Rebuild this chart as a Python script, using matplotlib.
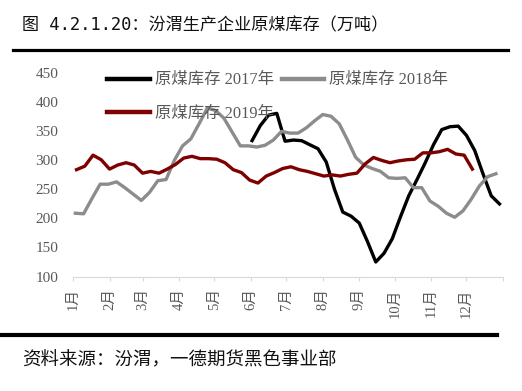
import numpy as np
import matplotlib
matplotlib.use("Agg")
import matplotlib.pyplot as plt
from matplotlib.lines import Line2D

# ---- data (weekly readings, day-of-year for first week) ----
months = ['1月', '2月', '3月', '4月', '5月', '6月', '7月', '8月', '9月', '10月', '11月', '12月']
month_start_days = [0, 31, 59, 90, 120, 151, 181, 212, 243, 273, 304, 334, 365]

start_2017 = 152
stock_2017 = [334, 360, 378, 381, 333, 335, 334, 327, 320, 297, 250, 211, 204, 192, 160,
              125, 140, 165, 203, 239, 267, 296, 327, 353, 358, 359, 343, 317, 277, 239, 225]

start_2018 = 2
stock_2018 = [209, 208, 234, 259, 259, 263, 253, 242, 231, 245, 265, 267, 300, 325, 337,
              363, 390, 386, 373, 349, 325, 325, 323, 326, 335, 350, 347, 347, 356, 368,
              379, 376, 363, 335, 305, 292, 286, 281, 270, 269, 270, 253, 253, 230, 221,
              209, 202, 213, 233, 256, 272, 277]

start_2019 = 3
stock_2019 = [284, 290, 309, 301, 285, 292, 296, 292, 278, 281, 278, 285, 293, 304, 307,
              303, 303, 302, 296, 284, 279, 266, 261, 273, 279, 286, 289, 284, 281, 277,
              273, 275, 273, 276, 278, 294, 305, 300, 296, 299, 301, 302, 313, 313, 315,
              319, 311, 309, 285]

labels = ['原煤库存 2017年', '原煤库存 2018年', '原煤库存 2019年']
colors = ['#000000', '#8c8c8c', '#7f0000']

title = '图 4.2.1.20：汾渭生产企业原煤库存（万吨）'
source = '资料来源：汾渭，一德期货黑色事业部'

serif_cjk = ['Liberation Serif', 'Noto Sans CJK SC', 'DejaVu Sans']
sans_cjk = ['Noto Sans CJK SC', 'DejaVu Sans']
mono_cjk = ['DejaVu Sans Mono', 'Noto Sans CJK SC', 'DejaVu Sans']
plt.rcParams['font.family'] = sans_cjk

W, H = 522, 391
fig = plt.figure(figsize=(W / 100, H / 100), dpi=100)
fig.patch.set_facecolor('white')

ax = fig.add_axes([73 / W, 1 - 276.5 / H, 430 / W, (276.5 - 73.3) / H])
ax.set_xlim(0, 365)
ax.set_ylim(100, 450)

series = [(start_2017, stock_2017), (start_2018, stock_2018), (start_2019, stock_2019)]
lines = []
for (st, vals), lab, col in zip(series, labels, colors):
    x = st + 7 * np.arange(len(vals))
    ln, = ax.plot(x, vals, color=col, lw=2.4, label=lab, solid_joinstyle='round')
    lines.append(ln)

for s in ['top', 'right', 'left']:
    ax.spines[s].set_visible(False)
ax.spines['bottom'].set_color('#d9d9d9')
ax.spines['bottom'].set_linewidth(0.8)

ax.set_yticks(np.arange(100, 451, 50))
ax.tick_params(axis='y', length=0, pad=10.5, labelsize=11, labelcolor='#595959')
for t in ax.get_yticklabels():
    t.set_family(serif_cjk)

ax.set_xticks(month_start_days)
ax.set_xticklabels(months + [''], rotation=90)
ax.tick_params(axis='x', length=3, width=0.8, color='#d9d9d9', pad=5.5,
               labelsize=10.5, labelcolor='#595959')
for t in ax.get_xticklabels():
    t.set_family(serif_cjk)

leg = ax.legend([lines[0], lines[2], lines[1]], [labels[0], labels[2], labels[1]],
                ncol=2, loc='upper left', bbox_to_anchor=(34 / 430, 1 + 1 / 203.2),
                frameon=False, borderpad=0, borderaxespad=0,
                handlelength=2.6, handletextpad=0.3, columnspacing=0.5,
                labelspacing=1.05, prop={'family': serif_cjk, 'size': 11.8})
for t in leg.get_texts():
    t.set_color('#595959')
for h in leg.legend_handles:
    h.set_linewidth(3.2)

fig.text(22 / W, 1 - 25 / H, title, va='center', ha='left', fontsize=12.3,
         color='#111111', family=mono_cjk)
fig.add_artist(Line2D([13 / W, 508 / W], [1 - 49.5 / H] * 2, lw=2.3, color='black'))
fig.add_artist(Line2D([0, 497 / W], [1 - 335 / H] * 2, lw=3.0, color='black'))
fig.text(22 / W, 1 - 360 / H, source, va='center', ha='left', fontsize=13.3, color='#111111')

fig.savefig('out.png', dpi=100, facecolor='white')
